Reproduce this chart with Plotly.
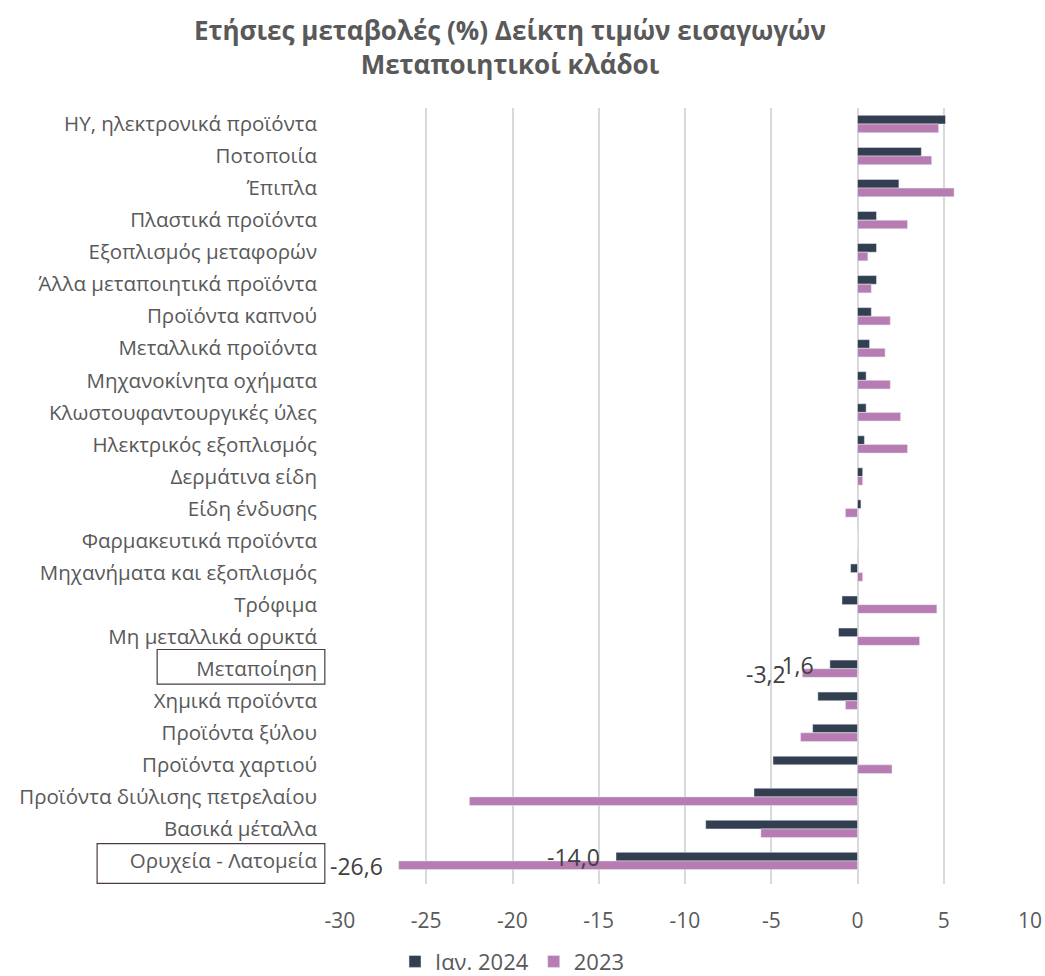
import plotly.graph_objects as go

categories = [
    "ΗΥ, ηλεκτρονικά προϊόντα", "Ποτοποιία", "Έπιπλα", "Πλαστικά προϊόντα",
    "Εξοπλισμός μεταφορών", "Άλλα μεταποιητικά προϊόντα", "Προϊόντα καπνού",
    "Μεταλλικά προϊόντα", "Μηχανοκίνητα οχήματα", "Κλωστουφαντουργικές ύλες",
    "Ηλεκτρικός εξοπλισμός", "Δερμάτινα είδη", "Είδη ένδυσης",
    "Φαρμακευτικά προϊόντα", "Μηχανήματα και εξοπλισμός", "Τρόφιμα",
    "Μη μεταλλικά ορυκτά", "Μεταποίηση", "Χημικά προϊόντα", "Προϊόντα ξύλου",
    "Προϊόντα χαρτιού", "Προϊόντα διύλισης πετρελαίου", "Βασικά μέταλλα",
    "Ορυχεία - Λατομεία",
]
jan_2024 = [5.1, 3.7, 2.4, 1.1, 1.1, 1.1, 0.8, 0.7, 0.5, 0.5, 0.4, 0.3, 0.2, 0.0,
            -0.4, -0.9, -1.1, -1.6, -2.3, -2.6, -4.9, -6.0, -8.8, -14.0]
y2023 = [4.7, 4.3, 5.6, 2.9, 0.6, 0.8, 1.9, 1.6, 1.9, 2.5, 2.9, 0.3, -0.7, 0.0,
         0.3, 4.6, 3.6, -3.2, -0.7, -3.3, 2.0, -22.5, -5.6, -26.6]
x_ticks = [-30, -25, -20, -15, -10, -5, 0, 5, 10]
labelled = ["Μεταποίηση", "Ορυχεία - Λατομεία"]

DARK = "#333F50"
PINK = "#B77CB1"
GREY = "#595959"
FONT = "Open Sans, Noto Sans, sans-serif"

fig = go.Figure()
fig.add_trace(go.Bar(y=categories, x=jan_2024, orientation="h", name="Ιαν. 2024",
                     marker=dict(color=DARK)))
fig.add_trace(go.Bar(y=categories, x=y2023, orientation="h", name="2023",
                     marker=dict(color=PINK)))

# data labels only for the two boxed rows
for cat in labelled:
    i = categories.index(cat)
    for val, shift in ((jan_2024[i], 4), (y2023[i], -5)):
        fig.add_annotation(x=val, y=cat, text=f"{val:.1f}".replace(".", ","),
                           showarrow=False, xanchor="right", xshift=-14, yshift=shift,
                           font=dict(size=23, color="#404040", family=FONT))

# boxes round the two total rows
boxes = {"Μεταποίηση": (-0.265, -0.60, 0.48), "Ορυχεία - Λατομεία": (-0.352, -0.54, 0.70)}
for cat, (x0, dy0, dy1) in boxes.items():
    i = categories.index(cat)
    fig.add_shape(type="rect", xref="paper", yref="y", x0=x0, x1=-0.022,
                  y0=i + dy0, y1=i + dy1, line=dict(color="#4A3A48", width=1.2))

fig.update_layout(
    width=1045, height=976,
    paper_bgcolor="white", plot_bgcolor="white",
    margin=dict(l=340, r=15, t=108, b=92, autoexpand=False),
    barmode="group", bargap=0.46, bargroupgap=0,
    font=dict(family=FONT, size=20, color=GREY),
    title=dict(text="<b>Ετήσιες μεταβολές (%) Δείκτη τιμών εισαγωγών<br>Μεταποιητικοί κλάδοι</b>",
               x=0.488, xanchor="center", y=0.959, yanchor="top",
               font=dict(size=26, color=GREY, family=FONT)),
    xaxis=dict(range=[-30, 10], tickvals=x_ticks, ticktext=[str(t) for t in x_ticks],
               showgrid=True, gridcolor="#D9D9D9", gridwidth=1.5,
               zeroline=True, zerolinecolor="#D9D9D9", zerolinewidth=1.5,
               ticks="", ticklabelstandoff=22, tickfont=dict(size=21, color=GREY)),
    yaxis=dict(autorange="reversed", showgrid=False, ticks="", ticklabelstandoff=22,
               tickfont=dict(size=20.5, color=GREY)),
    legend=dict(orientation="h", x=0.25, xanchor="center", y=-0.1, yanchor="middle",
                font=dict(size=22, color=GREY), traceorder="normal", itemwidth=30,
                tracegroupgap=0),
    showlegend=True,
)

# the page's default body margin would push the figure 8px off the window
fig.write_html("out.html", config={"displayModeBar": False},
               post_script="document.body.style.margin='0';")
